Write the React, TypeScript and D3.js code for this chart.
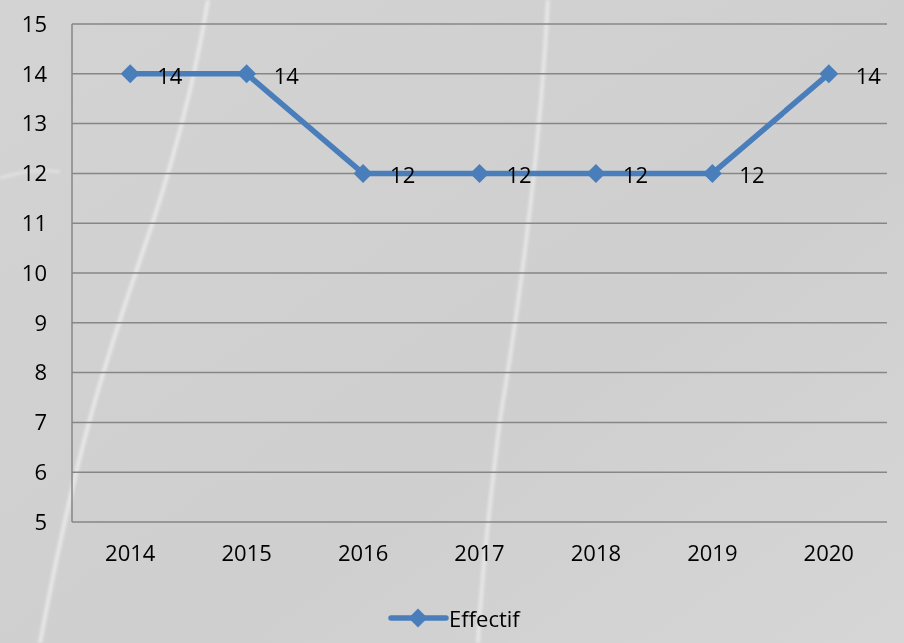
import React, { useEffect, useRef } from 'react';
import * as d3 from 'd3';

const years = ['2014', '2015', '2016', '2017', '2018', '2019', '2020'];
const effectif = [14, 14, 12, 12, 12, 12, 14];
const yTicks = [5, 6, 7, 8, 9, 10, 11, 12, 13, 14, 15];
const seriesName = 'Effectif';

const App: React.FC = () => {
  const ref = useRef<SVGSVGElement | null>(null);

  useEffect(() => {
    if (!ref.current) return;
    const width = 904;
    const height = 643;
    const margin = { top: 24, right: 17, bottom: 121, left: 72 };
    const font = "'Open Sans', 'DejaVu Sans', sans-serif";
    const fs = 22;

    const svg = d3.select(ref.current).attr('width', width).attr('height', height);
    svg.selectAll('*').remove();

    // background
    const defs = svg.append('defs');
    const grad = defs.append('linearGradient').attr('id', 'bg').attr('x1', 0).attr('y1', 0).attr('x2', 1).attr('y2', 1);
    grad.append('stop').attr('offset', '0%').attr('stop-color', '#d3d3d3');
    grad.append('stop').attr('offset', '60%').attr('stop-color', '#cfcfcf');
    grad.append('stop').attr('offset', '100%').attr('stop-color', '#d6d6d6');
    defs.append('filter').attr('id', 'blur').append('feGaussianBlur').attr('stdDeviation', 1.8);

    svg.append('rect').attr('width', width).attr('height', height).attr('fill', 'url(#bg)');

    const streaks = svg.append('g').attr('fill', 'none').attr('stroke', '#f2f2f2').attr('filter', 'url(#blur)');
    streaks.append('path').attr('d', 'M208,0 C195,80 175,160 140,260 C110,350 80,430 40,643').attr('stroke-width', 4).attr('opacity', 0.7);
    streaks.append('path').attr('d', 'M548,0 C540,150 520,300 500,420 C490,500 482,570 478,643').attr('stroke-width', 4).attr('opacity', 0.65);
    streaks.append('path').attr('d', 'M0,178 C20,172 40,168 60,172').attr('stroke-width', 3).attr('opacity', 0.5);

    const x = d3.scaleBand<string>().domain(years).range([margin.left, width - margin.right]);
    const y = d3.scaleLinear().domain([5, 15]).range([height - margin.bottom, margin.top]);
    const cx = (d: string) => (x(d) || 0) + x.bandwidth() / 2;

    // gridlines
    svg.append('g').selectAll('line').data(yTicks).enter().append('line')
      .attr('x1', margin.left).attr('x2', width - margin.right)
      .attr('y1', d => y(d)).attr('y2', d => y(d))
      .attr('stroke', '#868686').attr('stroke-width', 1.5);

    // y axis line
    svg.append('line')
      .attr('x1', margin.left).attr('x2', margin.left)
      .attr('y1', y(15)).attr('y2', y(5))
      .attr('stroke', '#868686').attr('stroke-width', 1.5);

    // y tick labels
    svg.append('g').selectAll('text').data(yTicks).enter().append('text')
      .attr('x', 47).attr('y', d => y(d)).attr('dy', '0.35em')
      .attr('text-anchor', 'end').attr('font-family', font).attr('font-size', fs).attr('fill', '#000')
      .text(d => d);

    // x tick labels
    svg.append('g').selectAll('text').data(years).enter().append('text')
      .attr('x', d => cx(d)).attr('y', y(5) + 39)
      .attr('text-anchor', 'middle').attr('font-family', font).attr('font-size', fs).attr('fill', '#000')
      .text(d => d);

    const blue = '#4a7ebb';
    const line = d3.line<number>().x((_, i) => cx(years[i])).y(d => y(d));
    svg.append('path').datum(effectif).attr('d', line).attr('fill', 'none')
      .attr('stroke', blue).attr('stroke-width', 5.5).attr('stroke-linejoin', 'round');

    const diamond = d3.symbol().type(d3.symbolDiamond2).size(230);
    svg.append('g').selectAll('path').data(effectif).enter().append('path')
      .attr('d', diamond).attr('fill', blue)
      .attr('transform', (d, i) => `translate(${cx(years[i])},${y(d)})`);

    // data labels
    svg.append('g').selectAll('text').data(effectif).enter().append('text')
      .attr('x', (_, i) => cx(years[i]) + 27).attr('y', d => y(d) + 2).attr('dy', '0.35em')
      .attr('font-family', font).attr('font-size', fs).attr('fill', '#000')
      .text(d => d);

    // legend
    const lg = svg.append('g');
    lg.append('line').attr('x1', 391).attr('x2', 446).attr('y1', 618).attr('y2', 618)
      .attr('stroke', blue).attr('stroke-width', 5.5).attr('stroke-linecap', 'round');
    lg.append('path').attr('d', diamond).attr('fill', blue).attr('transform', 'translate(418,618)');
    lg.append('text').attr('x', 449).attr('y', 619).attr('dy', '0.35em')
      .attr('font-family', font).attr('font-size', fs).attr('fill', '#000').text(seriesName);
  }, []);

  return <svg ref={ref} style={{ position: 'fixed', left: 0, top: 0, display: 'block' }}></svg>;
};

export default App;
